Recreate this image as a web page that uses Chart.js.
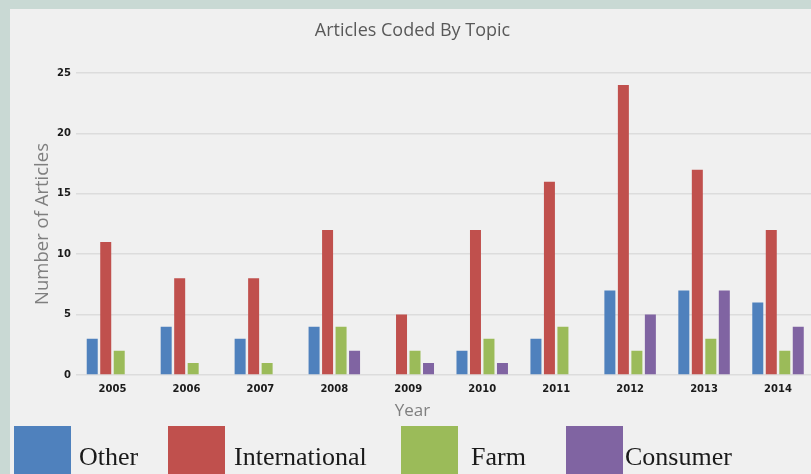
<!DOCTYPE html>
<html><head><meta charset="utf-8">
<script src="https://cdn.jsdelivr.net/npm/chart.js@4"></script>
<style>
html,body{margin:0;padding:0;background:#c9d9d4;overflow:hidden;width:811px;height:474px;}
#panel{position:absolute;left:10px;top:9px;width:806px;height:465px;background:#f0f0f0;}
canvas{display:block;}
</style></head><body>
<div id="panel"><canvas id="c" width="806" height="465" style="width:806px;height:465px"></canvas></div>
<script>
const years = ['2005','2006','2007','2008','2009','2010','2011','2012','2013','2014'];
const otherCounts = [3, 4, 3, 4, 0, 2, 3, 7, 7, 6];
const internationalCounts = [11, 8, 8, 12, 5, 12, 16, 24, 17, 12];
const farmCounts = [2, 1, 1, 4, 2, 3, 4, 2, 3, 2];
const consumerCounts = [0, 0, 0, 2, 1, 1, 0, 5, 7, 4];
const yTicks = [0, 5, 10, 15, 20, 25];

const bottomLegend = {
  id: 'bottomLegend',
  afterDraw(chart, args, opts) {
    const ctx = chart.ctx;
    ctx.save();
    chart.data.datasets.forEach((ds, i) => {
      ctx.fillStyle = ds.backgroundColor;
      ctx.fillRect(opts.boxX[i], opts.boxTop, opts.boxWidth, opts.boxHeight);
      ctx.fillStyle = opts.color;
      ctx.font = opts.font;
      ctx.textAlign = 'left';
      ctx.textBaseline = 'alphabetic';
      ctx.fillText(ds.label, opts.textX[i], opts.baseline);
    });
    ctx.restore();
  }
};

new Chart(document.getElementById('c'), {
  type: 'bar',
  data: {
    labels: years,
    datasets: [
      { label: 'Other', data: otherCounts, backgroundColor: '#4f81bd' },
      { label: 'International', data: internationalCounts, backgroundColor: '#c0504d' },
      { label: 'Farm', data: farmCounts, backgroundColor: '#9bbb59' },
      { label: 'Consumer', data: consumerCounts, backgroundColor: '#8064a2' }
    ]
  },
  plugins: [bottomLegend],
  options: {
    responsive: false,
    animation: false,
    devicePixelRatio: 1,
    datasets: { bar: { categoryPercentage: 0.73, barPercentage: 0.815 } },
    layout: { padding: { left: 0, right: 1, top: 0, bottom: 52.6 } },
    plugins: {
      legend: { display: false },
      tooltip: { enabled: false },
      title: {
        display: true, text: 'Articles Coded By Topic', color: '#595959',
        font: { family: 'Open Sans', size: 18, weight: 'normal' },
        padding: { top: 11.2, bottom: 31.2 }
      },
      subtitle: {
        display: true, position: 'bottom', text: 'Year', color: '#7f7f7f',
        font: { family: 'Open Sans', size: 17, weight: 'normal' },
        padding: { top: 1, bottom: 0 }
      },
      bottomLegend: {
        boxX: [4, 158, 391, 556],
        textX: [69, 224, 461, 615],
        boxTop: 417, boxWidth: 57, boxHeight: 60, baseline: 456,
        font: '26px "Liberation Serif"', color: '#1a1a1a'
      }
    },
    scales: {
      x: {
        grid: { display: false, drawTicks: false },
        border: { display: false },
        ticks: { color: '#1a1a1a', padding: 8, font: { family: 'DejaVu Sans', size: 10, weight: 'bold' } },
        afterFit(scale) { scale.height = 25; }
      },
      y: {
        min: 0, max: 25,
        afterBuildTicks(scale) { scale.ticks = yTicks.map(v => ({ value: v })); },
        grid: { color: '#dcdcdc', lineWidth: 1.5, drawTicks: false },
        border: { display: false },
        ticks: { color: '#1a1a1a', padding: 4.5, font: { family: 'DejaVu Sans', size: 10, weight: 'bold' } },
        title: {
          display: true, text: 'Number of Articles', color: '#7f7f7f',
          font: { family: 'Open Sans', size: 18.5, weight: 'normal' },
          padding: { top: 21.4, bottom: 0 }
        },
        afterFit(scale) { scale.width = 65.5; }
      }
    }
  }
});
</script>
</body></html>
